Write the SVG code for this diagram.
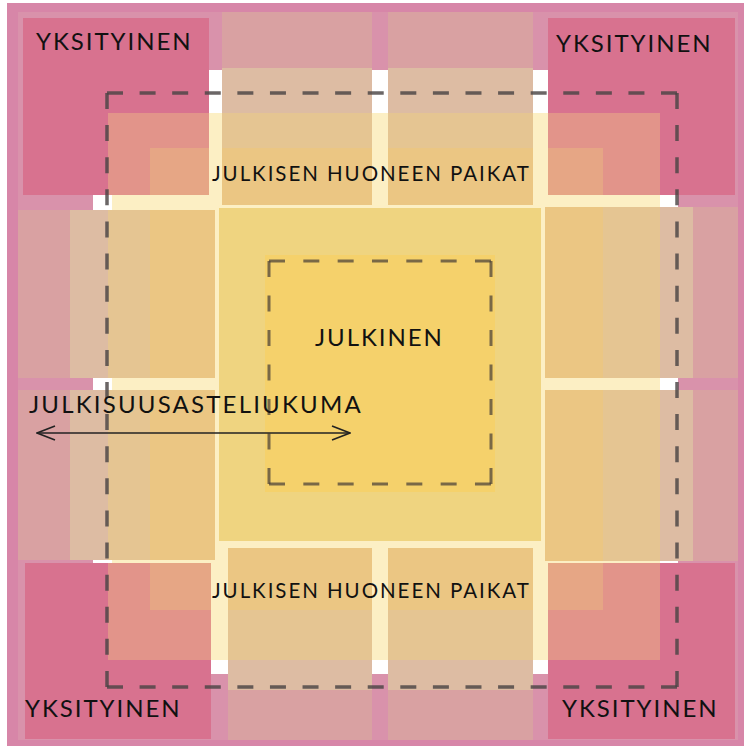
<svg xmlns="http://www.w3.org/2000/svg" width="744" height="746" viewBox="0 0 744 746">
<style>
.lbl{font-family:Lato,"Open Sans","Liberation Sans",sans-serif;fill:#111;}
.big{font-size:24px;letter-spacing:1.95px;}
.mid{font-size:20.5px;letter-spacing:1.95px;}
.dash{fill:none;stroke:#4a4444;stroke-opacity:0.82;stroke-width:3.5;}
.dashin{fill:none;stroke:#4a4038;stroke-opacity:0.72;stroke-width:3;}
</style>
<defs>
<clipPath id="tileClip">
<rect x="222" y="12" width="150" height="193"/>
<rect x="388" y="12" width="145" height="193"/>
<rect x="18" y="210" width="197" height="168"/>
<rect x="18" y="390" width="197" height="170"/>
<rect x="545" y="207" width="193" height="171"/>
<rect x="545" y="390" width="193" height="171"/>
<rect x="228" y="548" width="144" height="192"/>
<rect x="388" y="548" width="145" height="192"/>
</clipPath>
<clipPath id="cornerClip">
<rect x="23" y="18" width="186" height="177"/>
<rect x="548" y="18" width="187" height="177"/>
<rect x="25" y="563" width="186" height="176"/>
<rect x="548" y="563" width="187" height="176"/>
</clipPath>
<marker id="chev" viewBox="0 0 20 16" refX="19" refY="8" markerWidth="20" markerHeight="16" markerUnits="userSpaceOnUse" orient="auto-start-reverse">
<path d="M1,1 L19,8 L1,15" fill="none" stroke="#222" stroke-width="1.6"/>
</marker>
</defs>

<g id="background">
<rect x="7" y="3" width="737" height="743" fill="#d786a8"/>
<rect x="18" y="12" width="720" height="728" fill="#d992ab"/>
<rect x="93" y="70" width="585" height="604" fill="#ffffff"/>
<rect x="112" y="113" width="548" height="547" fill="#fcefc4"/>
</g>

<g id="tiles" clip-path="url(#tileClip)">
<rect x="0" y="0" width="744" height="746" fill="#d9a1a2"/>
<rect x="70" y="68" width="623" height="622" fill="#ddbca3"/>
<rect x="108" y="113" width="552" height="547" fill="#e5c592"/>
<rect x="150" y="148" width="453" height="462" fill="#ebc683"/>
</g>

<g id="corners" clip-path="url(#cornerClip)">
<rect x="0" y="0" width="744" height="746" fill="#d8728f"/>
<rect x="108" y="113" width="552" height="547" fill="#e2948a"/>
<rect x="150" y="148" width="453" height="462" fill="#e6a685"/>
</g>

<g id="center">
<rect x="219" y="208" width="322" height="333" fill="#efd480"/>
<rect x="265" y="255" width="230" height="237" fill="#f5d16b"/>
</g>

<g id="dashed-zones">
<path class="dash" d="M107,93 H677" stroke-dasharray="16 16.59"/>
<path class="dash" d="M107,687 H677" stroke-dasharray="16 16.59"/>
<path class="dash" d="M107,93 V687" stroke-dasharray="16 16.11"/>
<path class="dash" d="M677,93 V687" stroke-dasharray="16 16.11"/>
<path class="dashin" d="M269,261 H491" stroke-dasharray="16 18.33"/>
<path class="dashin" d="M269,484 H491" stroke-dasharray="16 18.33"/>
<path class="dashin" d="M269,261 V484" stroke-dasharray="16 18.5"/>
<path class="dashin" d="M491,261 V484" stroke-dasharray="16 18.5" stroke-width="2.2"/>
</g>

<g id="connectors">
<path d="M37,433 H350" fill="none" stroke="#222" stroke-width="1.6" marker-start="url(#chev)" marker-end="url(#chev)"/>
</g>

<g id="node-yksityinen-tl"><text class="lbl big" x="36" y="50">YKSITYINEN</text></g>
<g id="node-yksityinen-tr"><text class="lbl big" x="556" y="52">YKSITYINEN</text></g>
<g id="node-yksityinen-bl"><text class="lbl big" x="25" y="717">YKSITYINEN</text></g>
<g id="node-yksityinen-br"><text class="lbl big" x="562" y="717">YKSITYINEN</text></g>
<g id="node-paikat-top"><text class="lbl mid" x="212" y="181">JULKISEN HUONEEN PAIKAT</text></g>
<g id="node-paikat-bottom"><text class="lbl mid" x="212" y="598">JULKISEN HUONEEN PAIKAT</text></g>
<g id="node-julkinen"><text class="lbl big" x="315" y="346">JULKINEN</text></g>
<g id="node-liukuma"><text class="lbl big" x="29" y="413" style="letter-spacing:2.2px">JULKISUUSASTELIUKUMA</text></g>
</svg>
